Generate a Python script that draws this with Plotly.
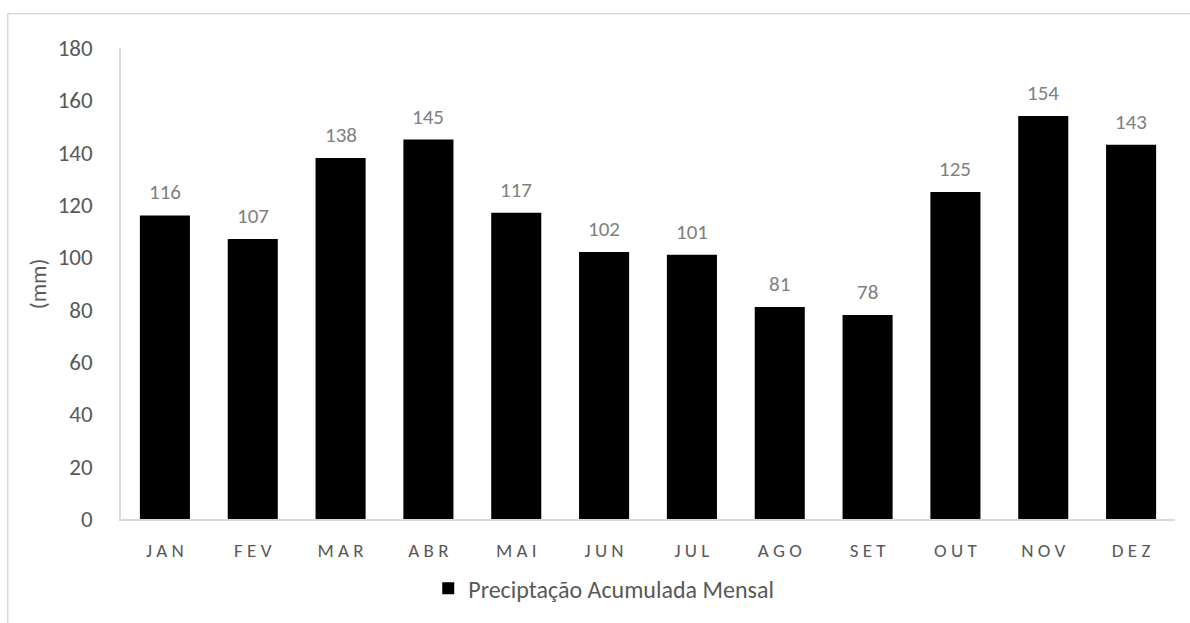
import plotly.graph_objects as go

# Monthly accumulated precipitation (mm)
months = ["JAN", "FEV", "MAR", "ABR", "MAI", "JUN", "JUL", "AGO", "SET", "OUT", "NOV", "DEZ"]
precip_mm = [116, 107, 138, 145, 117, 102, 101, 81, 78, 125, 154, 143]
series_name = "Preciptação Acumulada Mensal"
y_ticks = [0, 20, 40, 60, 80, 100, 120, 140, 160, 180]

FONT = "Carlito, Lato, Calibri, sans-serif"
AXIS_TEXT = "#595959"
LABEL_TEXT = "#808080"
LINE = "#d9d9d9"

# spaced-out month labels
tick_text = [" ".join(m) for m in months]

fig = go.Figure()
fig.add_trace(go.Bar(
    x=months,
    y=precip_mm,
    name=series_name,
    marker=dict(color="#000000", line=dict(width=0)),
    showlegend=True,
))

# value labels above each bar
for m, v in zip(months, precip_mm):
    fig.add_annotation(
        x=m, y=v, text=str(v), showarrow=False,
        yanchor="middle", yshift=23,
        font=dict(family=FONT, size=21, color=LABEL_TEXT),
    )

# y-axis title
fig.add_annotation(
    xref="paper", yref="paper", x=-0.079, y=0.5,
    text="(mm)", textangle=-90, showarrow=False,
    xanchor="center", yanchor="middle",
    font=dict(family=FONT, size=23, color=AXIS_TEXT),
)

# chart frame
fig.add_shape(
    type="rect", xref="paper", yref="paper",
    x0=-0.1075, x1=1.2, y0=-0.5, y1=1.0726,
    line=dict(color=LINE, width=1.5), fillcolor="rgba(0,0,0,0)",
    layer="below",
)

fig.update_layout(
    width=1190, height=623,
    margin=dict(l=121, r=15, t=48, b=100),
    paper_bgcolor="white", plot_bgcolor="white",
    bargap=0.43,
    font=dict(family=FONT, color=AXIS_TEXT),
    xaxis=dict(
        tickmode="array", tickvals=months, ticktext=tick_text,
        showline=True, linecolor=LINE, linewidth=1.5,
        showgrid=False, ticks="", ticklabelstandoff=13,
        tickfont=dict(family=FONT, size=19, color=AXIS_TEXT),
        automargin=False,
    ),
    yaxis=dict(
        range=[0, 180], tickmode="array", tickvals=y_ticks,
        showline=True, linecolor=LINE, linewidth=1.5,
        showgrid=False, zeroline=False, ticks="", ticklabelstandoff=22,
        tickfont=dict(family=FONT, size=23, color=AXIS_TEXT),
        automargin=False,
    ),
    legend=dict(
        orientation="h", x=0.458, xanchor="center", y=-0.148, yanchor="middle",
        font=dict(family=FONT, size=24, color=AXIS_TEXT),
        itemwidth=30,
    ),
)

fig.write_html("out.html")
